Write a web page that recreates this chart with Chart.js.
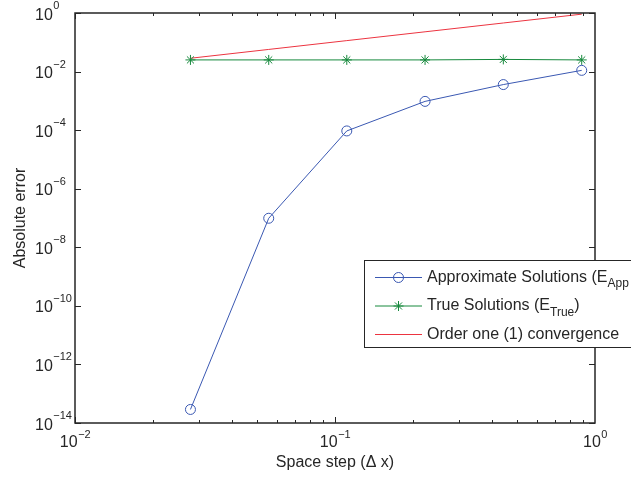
<!DOCTYPE html>
<html>
<head>
<meta charset="utf-8">
<script src="https://cdn.jsdelivr.net/npm/chart.js@4/dist/chart.umd.min.js"></script>
<style>
  html, body { margin: 0; padding: 0; background: #fff; overflow: hidden; }
  canvas { display: block; }
</style>
</head>
<body>
<canvas id="chart" width="631" height="478"></canvas>
<script>
// space steps (delta x)
const dx = [0.0278, 0.0556, 0.111, 0.222, 0.444, 0.889];
// errors
const approxErr = [2.9e-14, 9.8e-8, 9.4e-5, 9.6e-4, 3.6e-3, 1.1e-2];
const trueErr = [0.025, 0.025, 0.025, 0.025, 0.026, 0.025];
const orderOne = [0.0285, 0.057, 0.114, 0.228, 0.456, 0.912];

const xTickExp = [-2, -1, 0];
const yTickExp = [-14, -12, -10, -8, -6, -4, -2, 0];

const seriesNames = ["Approximate Solutions (E", "True Solutions (E", "Order one (1) convergence"];
const seriesSubs = ["App", "True", ""];
const colors = ["#3a58b2", "#17893d", "#ec3440"];

const FONT = "'Liberation Sans', Arial, sans-serif";
const INK = "#262626";

function pts(xs, ys) {
    return xs.map((x, i) => ({ x: x, y: ys[i] }));
}

// "10" with a raised exponent
function drawPow(ctx, exp, x, baseY, supY, align) {
    const expText = exp < 0 ? "\u2212" + Math.abs(exp) : String(exp);
    ctx.font = "16px " + FONT;
    const w10 = ctx.measureText("10").width;
    ctx.font = "11px " + FONT;
    const wExp = ctx.measureText(expText).width;
    let x0 = x;
    if (align === "center") x0 = x - (w10 + wExp) / 2;
    ctx.textAlign = "left";
    ctx.textBaseline = "alphabetic";
    ctx.font = "16px " + FONT;
    ctx.fillText("10", x0, baseY);
    ctx.font = "11px " + FONT;
    ctx.fillText(expText, x0 + w10 + 0.5, supY);
}

function drawMarker(ctx, style, x, y, color) {
    ctx.strokeStyle = color;
    ctx.lineWidth = 1;
    ctx.beginPath();
    if (style === "circle") {
        ctx.arc(x, y, 5, 0, Math.PI * 2);
    } else if (style === "star") {
        const r = 5;
        ctx.moveTo(x - r, y); ctx.lineTo(x + r, y);
        ctx.moveTo(x, y - r); ctx.lineTo(x, y + r);
        const d = r * Math.SQRT1_2;
        ctx.moveTo(x - d, y - d); ctx.lineTo(x + d, y + d);
        ctx.moveTo(x - d, y + d); ctx.lineTo(x + d, y - d);
    }
    ctx.stroke();
}

const framePlugin = {
    id: "framePlugin",
    afterDraw(chart) {
        const ctx = chart.ctx;
        const a = chart.chartArea;
        const xs = chart.scales.x;
        const ys = chart.scales.y;
        ctx.save();

        // box
        ctx.strokeStyle = INK;
        ctx.lineWidth = 1.5;
        ctx.strokeRect(a.left, a.top, a.right - a.left, a.bottom - a.top);

        // ticks, pointing inward
        ctx.lineWidth = 1;
        ctx.beginPath();
        for (let e = -2; e < 0; e++) {
            for (let m = 1; m <= 9; m++) {
                const px = Math.round(xs.getPixelForValue(m * Math.pow(10, e))) + 0.5;
                const len = m === 1 ? 6 : 3;
                ctx.moveTo(px, a.bottom); ctx.lineTo(px, a.bottom - len);
                ctx.moveTo(px, a.top); ctx.lineTo(px, a.top + len);
            }
        }
        for (const e of yTickExp) {
            const py = Math.round(ys.getPixelForValue(Math.pow(10, e))) + 0.5;
            ctx.moveTo(a.left, py); ctx.lineTo(a.left + 6, py);
            ctx.moveTo(a.right, py); ctx.lineTo(a.right - 6, py);
        }
        ctx.stroke();

        // tick labels
        ctx.fillStyle = INK;
        for (const e of xTickExp) {
            const px = xs.getPixelForValue(Math.pow(10, e));
            drawPow(ctx, e, px, a.bottom + 24, a.bottom + 14.5, "center");
        }
        for (const e of yTickExp) {
            const py = ys.getPixelForValue(Math.pow(10, e));
            drawPow(ctx, e, a.left - 40, py + 6.5, py - 4, "left");
        }

        // axis titles
        ctx.font = "16px " + FONT;
        ctx.textAlign = "center";
        ctx.textBaseline = "alphabetic";
        ctx.fillText("Space step (\u0394 x)", (a.left + a.right) / 2, a.bottom + 44);
        ctx.save();
        ctx.translate(25, (a.top + a.bottom) / 2);
        ctx.rotate(-Math.PI / 2);
        ctx.fillText("Absolute error", 0, 0);
        ctx.restore();

        // legend
        const lx = 364, ly = 260, lh = 87;
        ctx.fillStyle = "#fff";
        ctx.fillRect(lx, ly, 300, lh);
        ctx.strokeStyle = INK;
        ctx.lineWidth = 1;
        ctx.strokeRect(lx + 0.5, ly + 0.5, 300, lh);
        const markers = ["circle", "star", ""];
        for (let i = 0; i < seriesNames.length; i++) {
            const ry = ly + 17.5 + i * 28.5;
            ctx.strokeStyle = colors[i];
            ctx.lineWidth = 1;
            ctx.beginPath();
            ctx.moveTo(375, ry); ctx.lineTo(422, ry);
            ctx.stroke();
            if (markers[i]) drawMarker(ctx, markers[i], 398.5, ry, colors[i]);

            ctx.fillStyle = INK;
            ctx.textAlign = "left";
            ctx.font = "16px " + FONT;
            ctx.fillText(seriesNames[i], 427, ry + 4);
            if (seriesSubs[i]) {
                const w = ctx.measureText(seriesNames[i]).width;
                ctx.font = "12px " + FONT;
                ctx.fillText(seriesSubs[i], 427 + w, ry + 9.5);
                if (i === 1) {
                    const ws = ctx.measureText(seriesSubs[i]).width;
                    ctx.font = "16px " + FONT;
                    ctx.fillText(")", 427 + w + ws, ry + 4);
                }
            }
        }
        ctx.restore();
    }
};

const ctx = document.getElementById("chart").getContext("2d");

new Chart(ctx, {
    type: "scatter",
    data: {
        datasets: [
            {
                label: "Approximate Solutions",
                data: pts(dx, approxErr),
                showLine: true,
                borderColor: colors[0],
                backgroundColor: "transparent",
                borderWidth: 1,
                pointStyle: "circle",
                pointRadius: 5,
                pointBorderWidth: 1,
                pointBorderColor: colors[0],
                pointBackgroundColor: "rgba(0,0,0,0)"
            },
            {
                label: "True Solutions",
                data: pts(dx, trueErr),
                showLine: true,
                borderColor: colors[1],
                backgroundColor: "transparent",
                borderWidth: 1,
                pointStyle: "star",
                pointRadius: 5,
                pointBorderWidth: 1,
                pointBorderColor: colors[1]
            },
            {
                label: "Order one (1) convergence",
                data: pts(dx, orderOne),
                showLine: true,
                borderColor: colors[2],
                borderWidth: 1,
                pointRadius: 0
            }
        ]
    },
    options: {
        responsive: false,
        animation: false,
        layout: { padding: { left: 75, top: 13, right: 36, bottom: 55 } },
        plugins: {
            legend: { display: false },
            tooltip: { enabled: false }
        },
        scales: {
            x: { type: "logarithmic", min: 0.01, max: 1, display: false },
            y: { type: "logarithmic", min: 1e-14, max: 1, display: false }
        }
    },
    plugins: [framePlugin]
});
</script>
</body>
</html>
